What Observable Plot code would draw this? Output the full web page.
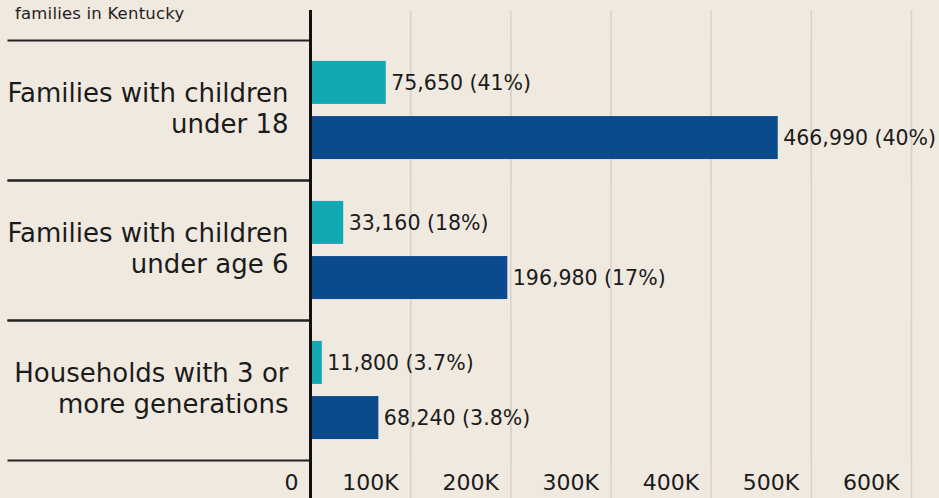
<!DOCTYPE html>
<html>
<head>
<meta charset="utf-8">
<script src="https://cdn.jsdelivr.net/npm/d3@7"></script>
<script src="https://cdn.jsdelivr.net/npm/@observablehq/plot@0.6"></script>
<style>
  html, body { margin: 0; padding: 0; background: #efe9e0; }
  #wrap { position: relative; width: 939px; height: 498px; overflow: hidden; font-family: "DejaVu Sans", sans-serif; }
  #subtitle { position: absolute; left: 15px; top: 4px; font-size: 16.5px; color: #1e1e1e; line-height: 20px; letter-spacing: 0.2px; }
  svg { display: block; }
  g[aria-label="tick labels"] text { letter-spacing: 0.6px; }
</style>
</head>
<body>
<div id="wrap">
  <div id="chart"></div>
  <div id="subtitle">families in Kentucky</div>
</div>
<script>
const categories = [
  "Families with children under 18",
  "Families with children under age 6",
  "Households with 3 or more generations"
];
const categoryLabels = [
  "Families with children\nunder 18",
  "Families with children\nunder age 6",
  "Households with 3 or\nmore generations"
];
const series = ["Grandfamilies", "All families"];
const grandValues = [75650, 33160, 11800];
const grandPct = ["41%", "18%", "3.7%"];
const allValues = [466990, 196980, 68240];
const allPct = ["40%", "17%", "3.8%"];
const xTicks = [0, 100000, 200000, 300000, 400000, 500000, 600000];
const gridTicks = xTicks.slice(1);

const rows = [];
categories.forEach((c, i) => {
  rows.push({category: c, series: series[0], value: grandValues[i], pct: grandPct[i]});
  rows.push({category: c, series: series[1], value: allValues[i], pct: allPct[i]});
});
const labelRows = categories.map((c, i) => ({category: c, label: categoryLabels[i]}));

const W = 939, H = 498, ML = 310;
const gridColor = "#d9d3c9";
const ink = "#1b1b1b";
const first = categories[0], last = categories[categories.length - 1];

const chart = Plot.plot({
  width: W,
  height: H,
  marginLeft: ML,
  marginRight: 0,
  marginTop: 40,
  marginBottom: 38,
  style: {background: "transparent", fontFamily: "'DejaVu Sans', sans-serif", color: ink},
  x: {domain: [0, 628000], axis: null},
  y: {domain: series, paddingInner: 0.22, paddingOuter: 0.38, round: false, axis: null},
  fy: {domain: categories, padding: 0, axis: null, round: false},
  color: {domain: series, range: ["#12a9b3", "#0b4a8c"]},
  marks: [
    Plot.ruleX(gridTicks, {x: d => d, stroke: gridColor, strokeWidth: 1.5}),
    Plot.ruleX(gridTicks, {x: d => d, fy: () => first, insetTop: -30, stroke: gridColor, strokeWidth: 1.5}),
    Plot.ruleX(gridTicks, {x: d => d, fy: () => last, insetBottom: -38, stroke: gridColor, strokeWidth: 1.5}),
    Plot.frame({anchor: "top", stroke: "#222", strokeWidth: 2, insetLeft: -302, insetRight: W - ML}),
    Plot.frame({anchor: "bottom", stroke: "#222", strokeWidth: 2, insetLeft: -302, insetRight: W - ML}),
    Plot.barX(rows, {x: "value", y: "series", fy: "category", fill: "series"}),
    Plot.text(rows, {
      x: "value", y: "series", fy: "category",
      text: d => `${d3.format(",")(d.value)} (${d.pct})`,
      textAnchor: "start", dx: 5, fontSize: 20.5, fill: ink
    }),
    Plot.ruleX([0], {stroke: "#111", strokeWidth: 3}),
    Plot.ruleX([0], {fy: () => first, insetTop: -30, stroke: "#111", strokeWidth: 3}),
    Plot.ruleX([0], {fy: () => last, insetBottom: -38, stroke: "#111", strokeWidth: 3}),
    Plot.text(labelRows, {
      fy: "category", text: "label", frameAnchor: "left",
      textAnchor: "end", dx: -22, dy: -3, fontSize: 26, lineHeight: 1.2, fill: ink
    }),
    Plot.axisX({
      ticks: xTicks, tickSize: 0, tickPadding: 14, textAnchor: "end", dx: -12,
      fontSize: 22, label: null, fill: ink, ariaLabel: "tick labels",
      tickFormat: d => d === 0 ? "0" : `${d / 1000}K`
    })
  ]
});
document.getElementById("chart").appendChild(chart);
</script>
</body>
</html>
